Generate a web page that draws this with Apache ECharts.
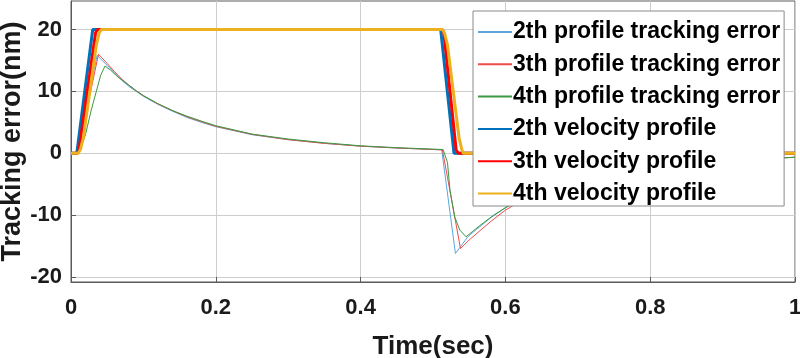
<!DOCTYPE html>
<html>
<head>
<meta charset="utf-8">
<script src="https://cdn.jsdelivr.net/npm/echarts@6/dist/echarts.min.js"></script>
<style>
html,body{margin:0;padding:0;background:#fff;}
#c{width:800px;height:358px;}
</style>
</head>
<body>
<div id="c"></div>
<script>
// ---- data (time in sec, value) ----
const seriesNames = [
  '2th profile tracking error',
  '3th profile tracking error',
  '4th profile tracking error',
  '2th velocity profile',
  '3th velocity profile',
  '4th velocity profile'
];
const xTicks = [0, 0.2, 0.4, 0.6, 0.8, 1];
const yTicks = [-20, -10, 0, 10, 20];

const err2 = [[0,0],[0.008,0],[0.036,15.8],[0.05,14.2],[0.06,13.0],[0.07,11.8],[0.08,10.8],[0.09,10.0],
  [0.1,9.2],[0.12,7.9],[0.14,6.8],[0.16,5.8],[0.18,5.0],[0.2,4.3],[0.25,3.0],[0.3,2.2],[0.35,1.6],
  [0.4,1.15],[0.45,0.85],[0.512,0.55],[0.531,-16.2],[0.548,-13.5],[0.56,-12.3],[0.58,-10.4],[0.6,-8.8],
  [0.62,-7.6],[0.65,-6.0],[0.7,-4.2],[0.75,-3.0],[0.8,-2.2],[0.85,-1.6],[0.9,-1.2],[0.95,-0.9],[1,-0.65]];
const err3 = [[0,0],[0.009,0],[0.038,16.0],[0.05,14.5],[0.06,13.2],[0.07,12.0],[0.08,11.0],[0.09,10.1],
  [0.1,9.3],[0.12,8.0],[0.14,6.9],[0.16,5.9],[0.18,5.1],[0.2,4.35],[0.25,3.05],[0.3,2.2],[0.35,1.6],
  [0.4,1.15],[0.45,0.85],[0.513,0.55],[0.538,-15.4],[0.55,-14.0],[0.565,-12.5],[0.58,-11.0],[0.6,-9.2],
  [0.62,-7.8],[0.65,-6.1],[0.7,-4.3],[0.75,-3.0],[0.8,-2.2],[0.85,-1.6],[0.9,-1.2],[0.95,-0.9],[1,-0.65]];
const err4 = [[0,0],[0.011,0],[0.02,3.0],[0.028,7.0],[0.035,10.0],[0.041,12.6],[0.047,14.1],[0.055,13.4],
  [0.065,12.3],[0.08,11.0],[0.09,10.1],[0.1,9.3],[0.12,8.0],[0.14,6.9],[0.16,6.0],[0.18,5.2],[0.2,4.45],
  [0.25,3.1],[0.3,2.3],[0.35,1.7],[0.4,1.2],[0.45,0.9],[0.514,0.6],[0.52,-1.5],[0.5235,-6.0],[0.53,-10.3],
  [0.537,-12.4],[0.5456,-13.5],[0.555,-12.6],[0.57,-11.2],[0.585,-9.9],[0.6,-8.8],[0.62,-7.6],[0.65,-6.0],
  [0.7,-4.2],[0.75,-3.0],[0.8,-2.2],[0.85,-1.6],[0.9,-1.2],[0.95,-0.9],[1,-0.65]];
const vel2 = [[0,0],[0.008,0],[0.030,20],[0.5106,20],[0.529,0],[1,0]];
const vel3 = [[0,0],[0.009,0],[0.011,0.5],[0.034,19.5],[0.037,20],[0.512,20],[0.515,19.5],[0.532,0.5],[0.535,0],[1,0]];
const vel4 = [[0,0],[0.010,0],[0.013,0.6],[0.017,2.5],[0.026,10],[0.035,17.5],[0.039,19.5],[0.042,20],
  [0.513,20],[0.516,19.4],[0.520,17.5],[0.528,10],[0.536,2.5],[0.540,0.5],[0.542,0],[1,0]];

const seriesData = [err2, err3, err4, vel2, vel3, vel4];
const seriesColors = ['#5ba7dd', '#ee4b4b', '#3a9a43', '#0072BD', '#FF0000', '#EDB120'];
const seriesWidths = [1, 1, 1, 3, 3, 3];

const chart = echarts.init(document.getElementById('c'), null, {renderer: 'canvas'});
const FONT = '"Liberation Sans", Arial, sans-serif';

chart.setOption({
  animation: false,
  backgroundColor: '#fff',
  grid: {
    left: 71, right: 5, top: 1, bottom: 76,
    outerBoundsMode: 'none', containLabel: false,
    show: true, borderColor: '#5a5a5a', borderWidth: 1, backgroundColor: '#fff'
  },
  legend: {
    orient: 'vertical',
    left: 473, top: 11,
    data: seriesNames,
    backgroundColor: '#fff',
    borderColor: '#8a8a8a', borderWidth: 1, borderRadius: 0,
    padding: [9.5, 4, 1, 4],
    itemWidth: 34, itemHeight: 20, itemGap: 9.3,
    itemStyle: {opacity: 0, borderWidth: 0},
    textStyle: {fontFamily: FONT, fontWeight: 'bold', fontSize: 23, color: '#000', padding: [0,0,0,-4]}
  },
  xAxis: {
    type: 'value', min: 0, max: 1, interval: 0.2,
    name: 'Time(sec)', nameLocation: 'middle', nameGap: 52, nameMoveOverlap: false,
    nameTextStyle: {fontFamily: FONT, fontWeight: 'bold', fontSize: 26, color: '#1a1a1a'},
    axisLine: {show: true, onZero: false, lineStyle: {color: '#5a5a5a', width: 1}},
    axisTick: {show: true, inside: true, length: 5, lineStyle: {color: '#5a5a5a'}},
    axisLabel: {fontFamily: FONT, fontWeight: 'bold', fontSize: 22, color: '#1a1a1a', margin: 15,
      formatter: v => String(+v.toFixed(1))},
    splitLine: {show: true, lineStyle: {color: '#cdcdcd', width: 1}}
  },
  yAxis: {
    type: 'value', min: -20.8, max: 24.6,
    name: 'Tracking error(nm)', nameLocation: 'middle', nameGap: 45, nameMoveOverlap: false,
    nameTextStyle: {fontFamily: FONT, fontWeight: 'bold', fontSize: 27, color: '#1a1a1a'},
    axisLine: {show: true, onZero: false, lineStyle: {color: '#5a5a5a', width: 1}},
    axisTick: {show: true, inside: true, length: 5, customValues: yTicks, lineStyle: {color: '#5a5a5a'}},
    axisLabel: {fontFamily: FONT, fontWeight: 'bold', fontSize: 22, color: '#1a1a1a', margin: 9,
      customValues: yTicks},
    splitLine: {show: true, lineStyle: {color: '#cdcdcd', width: 1}}
  },
  series: seriesNames.map((n, i) => ({
    name: n, type: 'line', data: seriesData[i], symbol: 'none', smooth: false,
    clip: true,
    lineStyle: {color: seriesColors[i], width: seriesWidths[i]},
    itemStyle: {color: seriesColors[i]}
  }))
});
</script>
</body>
</html>
